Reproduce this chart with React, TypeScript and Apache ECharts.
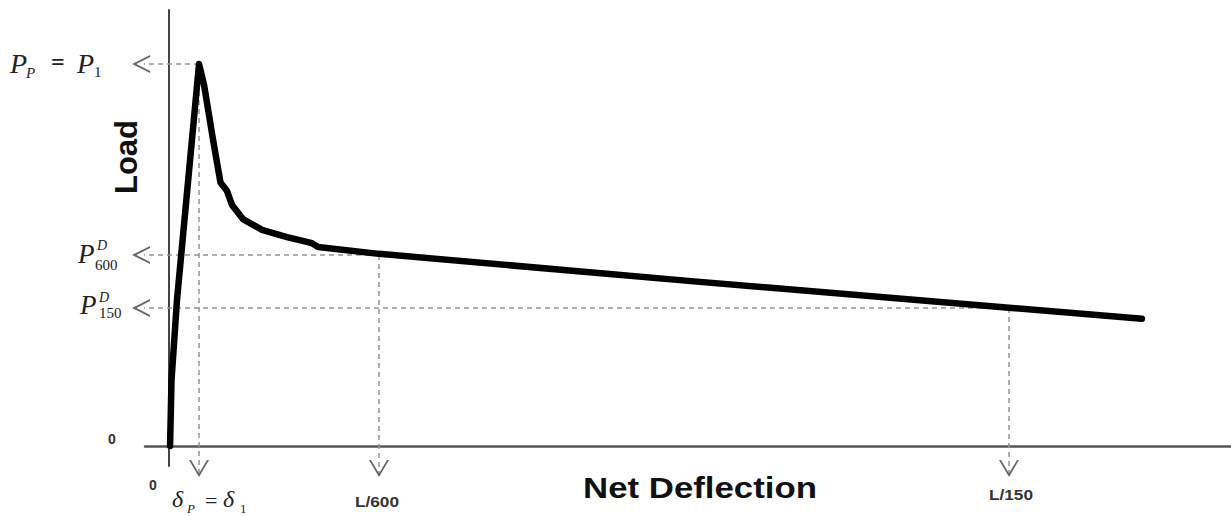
import React, { useEffect, useRef } from "react";
import * as echarts from "echarts";

// Load–deflection curve (x in units of L/600 deflection, y normalised so that P_P = 1)
const curveX = [0.005, 0.012, 0.038, 0.143, 0.167, 0.21, 0.245, 0.276, 0.3, 0.352, 0.443, 0.562, 0.681, 0.71, 1.0, 2.5, 4.0, 4.633];
const curveY = [0, 0.173, 0.382, 1.0, 0.945, 0.801, 0.69, 0.668, 0.631, 0.594, 0.566, 0.547, 0.531, 0.521, 0.503, 0.431, 0.362, 0.333];

// Characteristic points
const peakX = 0.143; // δ_P = δ_1
const peakY = 1.0; // P_P = P_1
const l600X = 1.0; // L/600
const p600Y = 0.5; // P^D_600
const l150X = 4.0; // L/150
const p150Y = 0.361; // P^D_150

// where the guide arrows end
const arrowTipX = -0.176;
const arrowTipY = -0.081;

// axis range
const xMin = -0.11429;
const xMax = 5.0571;
const yMin = -0.05236;
const yMax = 1.1414;

const LEFT_ARROW =
  "path://M0,9 L0.01,9 L0,9.01 Z M36,0 L18,9 L36,18 L36,16 L22.3,9 L36,2 Z";
const DOWN_ARROW =
  "path://M10,34 L10.01,34 L10,33.99 Z M0,0 L10,17 L20,0 L18,0 L10,13.5 L2,0 Z";

const guide = (from: number[], to: number[], down: boolean) => ({
  type: "line",
  z: 2,
  clip: false,
  silent: true,
  animation: false,
  lineStyle: { color: "#959595", width: 1.5, type: [5, 4] },
  itemStyle: { color: "#666", borderWidth: 0 },
  data: [
    { value: from, symbol: "none" },
    {
      value: to,
      symbol: down ? DOWN_ARROW : LEFT_ARROW,
      symbolSize: down ? [20, 34] : [36, 18],
    },
  ],
});

const serif = '"Liberation Serif", "DejaVu Serif", serif';
const sans = '"Liberation Sans", Arial, sans-serif';

const txt = (
  text: string,
  x: number,
  y: number,
  font: string,
  align = "left",
  extra: any = {}
) => ({
  type: "text",
  x,
  y,
  silent: true,
  ...extra,
  style: {
    text,
    font,
    fill: extra.fill || "#222",
    textAlign: align,
    align,
    textVerticalAlign: "middle",
    verticalAlign: "middle",
  },
});

export default function App() {
  const ref = useRef<HTMLDivElement>(null);

  useEffect(() => {
    if (!ref.current) return;
    const chart = echarts.init(ref.current, null, { renderer: "svg" });
    const curve = curveX.map((x, i) => [x, curveY[i]]);

    chart.setOption({
      animation: false,
      grid: { left: 145, right: 0, top: 10, bottom: 50 },
      xAxis: {
        type: "value",
        min: xMin,
        max: xMax,
        axisLine: { onZero: true, lineStyle: { color: "#555", width: 2.5 } },
        axisTick: { show: false },
        axisLabel: { show: false },
        splitLine: { show: false },
      },
      yAxis: {
        type: "value",
        min: yMin,
        max: yMax,
        axisLine: { show: true, onZero: true, lineStyle: { color: "#444", width: 2 } },
        axisTick: { show: false },
        axisLabel: { show: false },
        splitLine: { show: false },
      },
      series: [
        guide([peakX, peakY], [arrowTipX, peakY], false),
        guide([l600X, p600Y], [arrowTipX, p600Y], false),
        guide([l150X, p150Y], [arrowTipX, p150Y], false),
        guide([peakX, peakY], [peakX, arrowTipY], true),
        guide([l600X, p600Y], [l600X, arrowTipY], true),
        guide([l150X, p150Y], [l150X, arrowTipY], true),
        {
          type: "line",
          z: 3,
          data: curve,
          symbol: "none",
          silent: true,
          lineStyle: { color: "#000", width: 6.5, join: "round", cap: "round" },
        },
      ],
      graphic: [
        // P_P = P_1
        txt("P", 10, 63, `italic 28px ${serif}`),
        txt("P", 26, 73, `italic 15px ${serif}`),
        txt("=", 51, 62, `bold 24px ${serif}`),
        txt("P", 77, 63, `italic 28px ${serif}`),
        txt("1", 94, 72, `15px ${serif}`),
        // P^D_600
        txt("P", 78, 254, `italic 27px ${serif}`),
        txt("D", 97, 245, `italic 14px ${serif}`),
        txt("600", 95, 265, `15px ${serif}`),
        // P^D_150
        txt("P", 80, 305, `italic 27px ${serif}`),
        txt("D", 99, 297, `italic 14px ${serif}`),
        txt("150", 99, 313, `15px ${serif}`),
        // δ_P = δ_1
        txt("δ", 172, 499, `italic 24px ${serif}`),
        txt("P", 187, 508, `italic 13px ${serif}`),
        txt("=", 205, 500, `22px ${serif}`),
        txt("δ", 223, 499, `italic 24px ${serif}`),
        txt("1", 240, 508, `13px ${serif}`),
        // zeros
        txt("0", 112, 439, `bold 14px ${sans}`, "center", { fill: "#333" }),
        txt("0", 153, 485, `bold 14px ${sans}`, "center", { fill: "#333" }),
        // x labels
        txt("L/600", 377, 501, `bold 15px ${sans}`, "center", { scaleX: 1.15, fill: "#333" }),
        txt("L/150", 1011, 494, `bold 15px ${sans}`, "center", { scaleX: 1.15, fill: "#333" }),
        txt("Net Deflection", 700, 488, `bold 29px ${sans}`, "center", { scaleX: 1.2, fill: "#111" }),
        txt("Load", 126, 157, `bold 31px ${sans}`, "center", { rotation: Math.PI / 2, fill: "#111" }),
      ],
    });

    return () => chart.dispose();
  }, []);

  return (
    <div
      ref={ref}
      style={{ position: "absolute", left: 0, top: 0, width: 1231, height: 516, background: "#fff" }}
    />
  );
}
